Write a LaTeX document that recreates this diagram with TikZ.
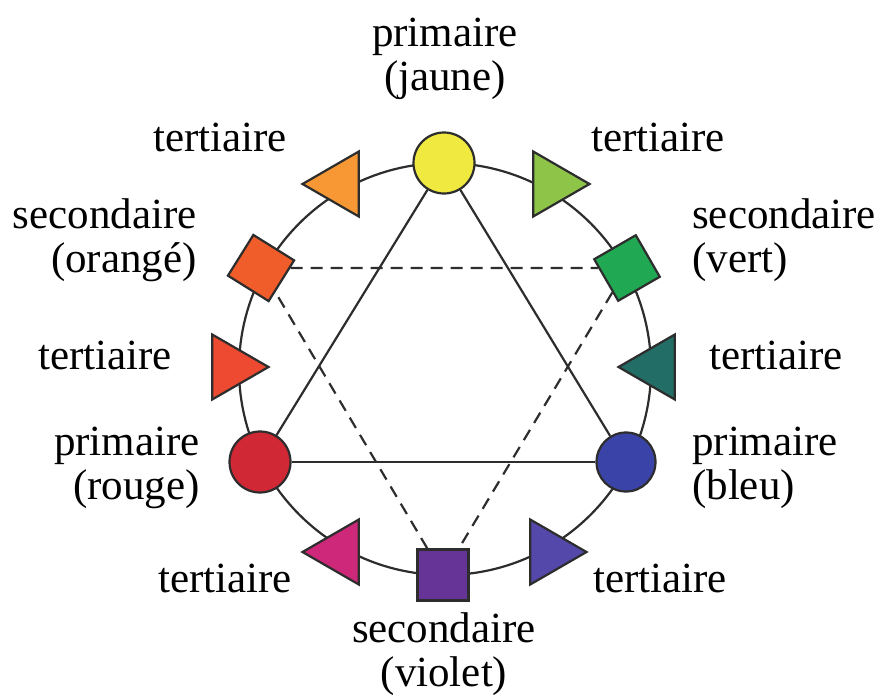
\documentclass[tikz,border=0pt]{standalone}
\usepackage{fontspec}
\setmainfont{Liberation Serif}
\usetikzlibrary{shapes.geometric}
\definecolor{ln}{RGB}{45,45,45}
\definecolor{cY}{RGB}{240,234,64}
\definecolor{cYO}{RGB}{247,152,52}
\definecolor{cYG}{RGB}{142,196,72}
\definecolor{cO}{RGB}{240,92,42}
\definecolor{cG}{RGB}{32,168,82}
\definecolor{cRO}{RGB}{238,74,50}
\definecolor{cT}{RGB}{34,110,102}
\definecolor{cR}{RGB}{208,40,52}
\definecolor{cB}{RGB}{58,68,168}
\definecolor{cM}{RGB}{206,40,122}
\definecolor{cBV}{RGB}{84,72,170}
\definecolor{cV}{RGB}{102,52,150}
\tikzset{
  prim/.style={circle,draw=ln,line width=2.2pt,inner sep=0pt,minimum size=61pt},
  sec/.style={rectangle,draw=ln,line width=2.2pt,inner sep=0pt,minimum size=48pt},
  tri/.style={regular polygon,regular polygon sides=3,draw=ln,line width=2.2pt,inner sep=0pt,minimum size=75pt},
  east/.style={tri,shape border rotate=-90},
  west/.style={tri,shape border rotate=90},
  lab/.style={font=\fontsize{43}{44}\selectfont,inner sep=0pt},
  solidl/.style={draw=ln,line width=2.2pt},
  dashl/.style={draw=ln,line width=2.2pt,dash pattern=on 12pt off 8pt},
}
\begin{document}
\begin{tikzpicture}[x=1pt,y=-1pt]
\useasboundingbox (0,0) rectangle (883,694);
\draw[ln,line width=2.2pt] (445,369) circle[radius=206];
% nodes
\node[prim,fill=cY] (Y) at (444,163) {};
\node[prim,fill=cR] (R) at (260,462) {};
\node[prim,fill=cB,minimum size=59pt] (B) at (626,462) {};
\node[sec,fill=cO,rotate=-32] (O) at (261,268) {};
\node[sec,fill=cG,rotate=30] (G) at (627,268) {};
\node[sec,fill=cV,minimum size=51pt] (V) at (443,575) {};
\node[west,fill=cYO] (YO) at (340,184) {};
\node[east,fill=cYG] (YG) at (552,184) {};
\node[east,fill=cRO] (RO) at (231,367) {};
\node[west,fill=cT] (T) at (656,367) {};
\node[west,fill=cM] (M) at (340,552) {};
\node[east,fill=cBV] (BV) at (549,552) {};
% connectors
\path[solidl] (Y) -- (R);
\path[solidl] (R) -- (B);
\path[solidl] (B) -- (Y);
\path[dashl] (O) -- (G);
\path[dashl] (G) -- (V);
\path[dashl] (V) -- (O);
% labels
\node[lab,align=center] (lY) at (445,59) {primaire\\(jaune)};
\node[lab] (t1) at (220,137) {tertiaire};
\node[lab] (t2) at (658,137) {tertiaire};
\node[lab,align=right,anchor=east] (lO) at (197,240) {secondaire\\(orangé)};
\node[lab,align=left,anchor=west] (lG) at (692,240) {secondaire\\(vert)};
\node[lab] (t3) at (105,355) {tertiaire};
\node[lab] (t4) at (776,355) {tertiaire};
\node[lab,align=right,anchor=east] (lR) at (200,468) {primaire\\(rouge)};
\node[lab,align=left,anchor=west] (lB) at (692,468) {primaire\\(bleu)};
\node[lab] (t5) at (225,578) {tertiaire};
\node[lab] (t6) at (660,578) {tertiaire};
\node[lab,align=center] (lV) at (444,654) {secondaire\\(violet)};
\end{tikzpicture}
\end{document}
